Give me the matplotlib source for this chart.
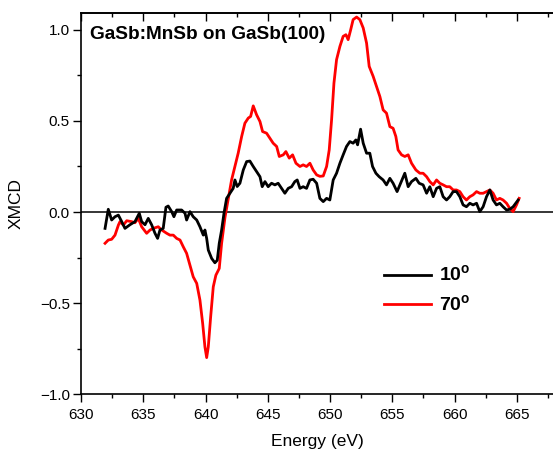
import matplotlib
matplotlib.use('Agg')
from matplotlib import pyplot as plt
from matplotlib.ticker import MultipleLocator

import numpy as np

# XMCD spectra, 10 deg (black) and 70 deg (red)
energy_10 = [631.93, 632.19, 632.46, 632.73, 633.0, 633.27, 633.53, 633.93,
             634.33, 634.68, 634.87, 635.14, 635.4, 635.67, 635.94, 636.15,
             636.34, 636.6, 636.82, 637.0, 637.28, 637.46, 637.68, 638.08,
             638.35, 638.48, 638.75, 639.01, 639.29, 639.55, 639.82, 639.95,
             640.09, 640.22, 640.49, 640.75, 640.94, 641.1, 641.29, 641.48,
             641.69, 641.96, 642.22, 642.36, 642.54, 642.76, 643.03, 643.3,
             643.56, 643.83, 644.1, 644.37, 644.55, 644.77, 645.03, 645.3,
             645.57, 645.83, 646.1, 646.37, 646.64, 646.91, 647.17, 647.36,
             647.58, 647.84, 648.11, 648.38, 648.64, 648.92, 649.18, 649.45,
             649.72, 649.98, 650.25, 650.52, 650.79, 651.05, 651.32, 651.59,
             651.85, 652.07, 652.21, 652.45, 652.66, 652.93, 653.19, 653.41,
             653.68, 653.94, 654.26, 654.53, 654.8, 655.06, 655.38, 655.66,
             656.0, 656.27, 656.54, 656.89, 657.15, 657.47, 657.75, 658.01,
             658.28, 658.55, 658.81, 659.08, 659.35, 659.61, 659.88, 660.15,
             660.42, 660.68, 660.95, 661.22, 661.48, 661.76, 662.02, 662.29,
             662.56, 662.83, 663.09, 663.36, 663.63, 663.89, 664.17, 664.43,
             664.7, 665.1]
xmcd_10 = [-0.09, 0.015, -0.044, -0.026, -0.017, -0.053, -0.09, -0.07,
           -0.053, -0.007, -0.053, -0.07, -0.035, -0.07, -0.117, -0.145,
           -0.099, -0.09, 0.026, 0.033, 0.002, -0.026, 0.011, 0.011,
           -0.007, -0.044, 0.002, -0.026, -0.044, -0.081, -0.127, -0.099,
           -0.145, -0.209, -0.255, -0.279, -0.265, -0.172, -0.099, -0.007,
           0.075, 0.103, 0.13, 0.176, 0.14, 0.158, 0.231, 0.277,
           0.28, 0.25, 0.222, 0.194, 0.139, 0.167, 0.139, 0.158,
           0.149, 0.158, 0.13, 0.103, 0.13, 0.139, 0.167, 0.176,
           0.13, 0.139, 0.13, 0.176, 0.18, 0.158, 0.075, 0.057,
           0.075, 0.066, 0.176, 0.213, 0.268, 0.314, 0.36, 0.387,
           0.378, 0.396, 0.369, 0.455, 0.378, 0.323, 0.323, 0.25,
           0.213, 0.194, 0.176, 0.149, 0.185, 0.158, 0.112, 0.158,
           0.213, 0.139, 0.167, 0.185, 0.158, 0.149, 0.103, 0.139,
           0.084, 0.13, 0.139, 0.084, 0.066, 0.084, 0.112, 0.112,
           0.084, 0.039, 0.029, 0.048, 0.039, 0.048, 0.002, 0.029,
           0.084, 0.121, 0.066, 0.039, 0.048, 0.029, 0.011, 0.015,
           0.029, 0.066]

energy_70 = [631.93, 632.19, 632.46, 632.73, 633.0, 633.13, 633.4, 633.67,
             634.07, 634.33, 634.6, 634.87, 635.27, 635.54, 635.8, 636.2,
             636.48, 636.88, 637.14, 637.41, 637.68, 637.95, 638.21, 638.48,
             638.75, 639.01, 639.29, 639.55, 639.77, 639.95, 640.09, 640.22,
             640.41, 640.62, 640.83, 641.1, 641.29, 641.56, 641.82, 642.09,
             642.36, 642.62, 642.9, 643.16, 643.43, 643.62, 643.83, 644.1,
             644.37, 644.58, 644.9, 645.17, 645.43, 645.71, 645.92, 646.24,
             646.45, 646.72, 646.99, 647.26, 647.58, 647.84, 648.11, 648.38,
             648.64, 648.92, 649.18, 649.45, 649.72, 649.93, 650.12, 650.31,
             650.52, 650.79, 651.05, 651.27, 651.45, 651.65, 651.85, 652.13,
             652.39, 652.66, 652.93, 653.14, 653.46, 653.73, 654.0, 654.26,
             654.53, 654.8, 655.06, 655.28, 655.46, 655.74, 656.0, 656.27,
             656.54, 656.89, 657.21, 657.47, 657.75, 658.01, 658.28, 658.55,
             658.81, 659.08, 659.35, 659.61, 659.88, 660.15, 660.42, 660.68,
             660.95, 661.22, 661.48, 661.76, 662.02, 662.29, 662.56, 662.83,
             663.09, 663.36, 663.63, 663.89, 664.17, 664.43, 664.7, 664.97,
             665.18]
xmcd_70 = [-0.172, -0.154, -0.15, -0.127, -0.072, -0.053, -0.072, -0.048,
           -0.053, -0.059, -0.035, -0.081, -0.117, -0.099, -0.09, -0.081,
           -0.099, -0.117, -0.127, -0.127, -0.145, -0.154, -0.191, -0.227,
           -0.292, -0.356, -0.392, -0.484, -0.613, -0.741, -0.80, -0.741,
           -0.576, -0.411, -0.347, -0.31, -0.172, -0.03, 0.07, 0.176,
           0.25, 0.323, 0.415, 0.488, 0.516, 0.525, 0.583, 0.534,
           0.497, 0.442, 0.433, 0.405, 0.378, 0.36, 0.305, 0.314,
           0.332, 0.296, 0.314, 0.268, 0.25, 0.259, 0.25, 0.268,
           0.231, 0.204, 0.196, 0.198, 0.25, 0.341, 0.506, 0.708,
           0.837, 0.91, 0.965, 0.974, 0.947, 1.0, 1.057, 1.071,
           1.057, 1.011, 0.928, 0.8, 0.745, 0.69, 0.634, 0.561,
           0.543, 0.469, 0.46, 0.415, 0.341, 0.314, 0.305, 0.314,
           0.268, 0.231, 0.213, 0.213, 0.194, 0.167, 0.149, 0.176,
           0.158, 0.149, 0.139, 0.139, 0.121, 0.121, 0.112, 0.084,
           0.066, 0.084, 0.094, 0.112, 0.103, 0.103, 0.112, 0.121,
           0.103, 0.066, 0.075, 0.066, 0.048, 0.02, 0.002, 0.039,
           0.075]

series_labels = [r'10$^{\mathbf{o}}$', r'70$^{\mathbf{o}}$']
title_text = 'GaSb:MnSb on GaSb(100)'

plt.rcParams['font.family'] = ['Liberation Sans', 'DejaVu Sans']
plt.rcParams['mathtext.fontset'] = 'custom'
plt.rcParams['mathtext.rm'] = 'Liberation Sans'
plt.rcParams['mathtext.bf'] = 'Liberation Sans:bold'

fig = plt.figure(figsize=(5.53, 4.5), dpi=100)
ax = fig.add_axes([0.1465, 0.1244, 0.8535, 0.8474])

ax.axhline(0.0, color='black', lw=1.1, zorder=1)
ax.plot(np.array(energy_10), np.array(xmcd_10), color='black', lw=2.0,
        label=series_labels[0], zorder=3)
ax.plot(np.array(energy_70), np.array(xmcd_70), color='#ff0000', lw=2.0,
        label=series_labels[1], zorder=2)

ax.set_xlim(630, 667.9)
ax.set_ylim(-1.0, 1.095)
ax.xaxis.set_major_locator(MultipleLocator(5))
ax.xaxis.set_minor_locator(MultipleLocator(2.5))
ax.yaxis.set_major_locator(MultipleLocator(0.5))
ax.yaxis.set_minor_locator(MultipleLocator(0.25))

ax.tick_params(which='both', direction='out', width=1.0, labelsize=11,
               top=False, right=False)
ax.tick_params(which='major', length=5.5)
ax.tick_params(which='minor', length=3)
ax.tick_params(axis='x', which='major', pad=4.5)
ax.tick_params(axis='y', which='major', pad=2.5)

# top axis: ticks pointing in, no labels
secax = ax.secondary_xaxis('top')
secax.xaxis.set_major_locator(MultipleLocator(5))
secax.xaxis.set_minor_locator(MultipleLocator(2.5))
secax.tick_params(which='both', direction='in', width=1.0, labeltop=False)
secax.tick_params(which='major', length=5.5)
secax.tick_params(which='minor', length=3)
secax.spines['top'].set_linewidth(1.2)

for side in ['left', 'bottom', 'top']:
    ax.spines[side].set_linewidth(1.2)
ax.spines['right'].set_visible(False)

ax.set_xlabel('Energy (eV)', fontsize=12.5, labelpad=9)
ax.set_ylabel('XMCD', fontsize=12.5, labelpad=12)

ax.text(0.02, 0.965, title_text, transform=ax.transAxes, fontsize=13.7,
        fontweight='bold', ha='left', va='top')

leg = ax.legend(loc='upper left', bbox_to_anchor=(0.605, 0.385),
                frameon=False, handlelength=2.4,
                handletextpad=0.4, labelspacing=0.45,
                prop={'weight': 'bold', 'size': 14})

fig.savefig('out.png', dpi=100)
